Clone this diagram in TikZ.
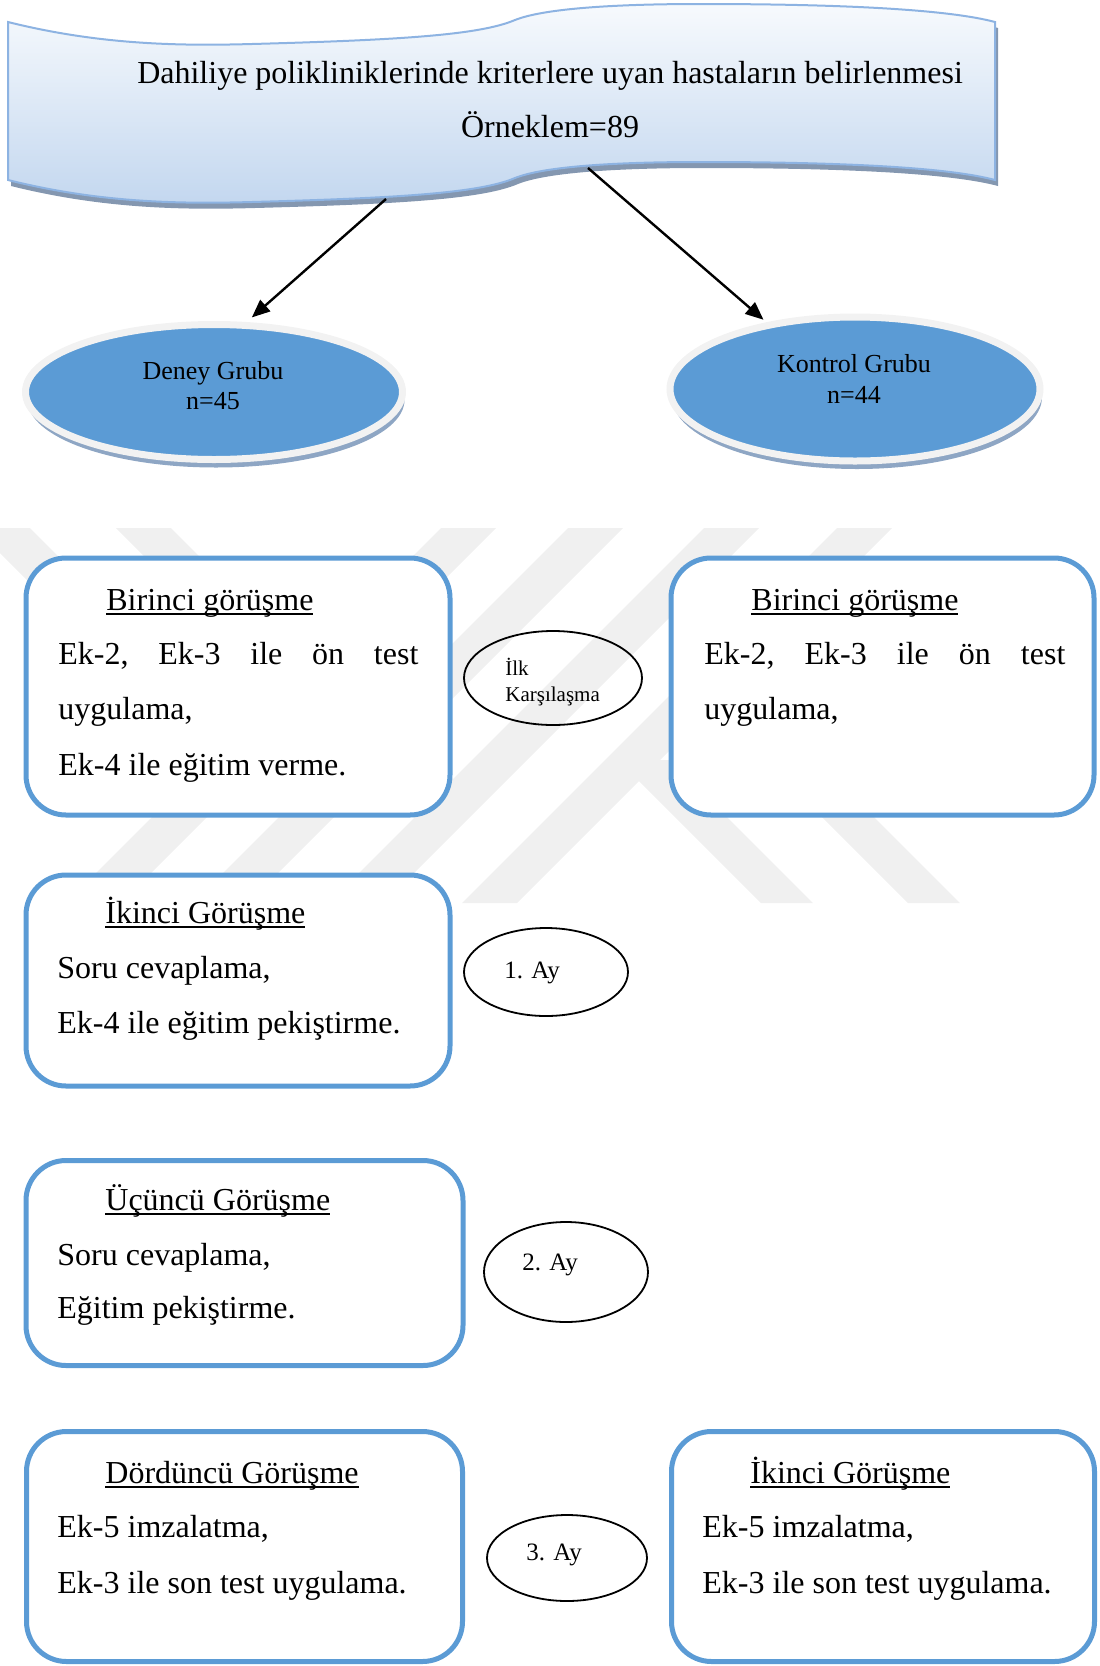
\documentclass[tikz,border=0pt]{standalone}
\usepackage{fontspec}
\setmainfont{Liberation Serif}
\usetikzlibrary{arrows.meta,shapes.geometric,shadows}
\definecolor{kenarmavi}{HTML}{5B9BD5}
\definecolor{grupmavi}{HTML}{5B9BD5}
\definecolor{kenargri}{HTML}{F2F2F2}
\definecolor{golgemavi}{HTML}{8EA6C4}
\definecolor{bantust}{HTML}{F7FAFD}
\definecolor{bantalt}{HTML}{C3D7EF}
\definecolor{bantkenar}{HTML}{8DB3E2}
\definecolor{bantgolge}{HTML}{8497B0}
\definecolor{filigran}{HTML}{F0F0F0}
\newcommand\altcizgi[1]{\setbox0\hbox{#1}\rlap{\rule[-2.4pt]{\wd0}{0.9pt}}\box0}
% wave banner outline, in pixels of the page
\def\bantyol{(8,22) .. controls (100,45) and (180,46) .. (252,44)
  .. controls (400,40) and (480,35) .. (515,20)
  .. controls (545,8) and (620,4) .. (700,4)
  .. controls (850,4) and (950,10) .. (995,22) -- (995,180)
  .. controls (950,168) and (850,162) .. (700,162)
  .. controls (620,162) and (545,166) .. (515,178)
  .. controls (480,193) and (400,198) .. (252,202)
  .. controls (180,204) and (100,203) .. (8,180) -- cycle}
\begin{document}
\begin{tikzpicture}[x=0.5pt, y=-0.5pt,
    kutu/.style={draw=kenarmavi, line width=2.5pt, fill=white, rounded corners=20pt, inner sep=0pt},
    grup/.style={ellipse, draw=kenargri, line width=3.5pt, fill=grupmavi, inner sep=0pt,
      drop shadow={shadow xshift=1pt, shadow yshift=-4pt, fill=golgemavi, opacity=1}},
    zaman/.style={ellipse, draw=black, line width=0.9pt, inner sep=0pt},
    yazi/.style={anchor=base west, inner sep=0pt, font=\fontsize{16pt}{19pt}\selectfont},
    baslik/.style={anchor=base, inner sep=0pt, font=\fontsize{16pt}{19pt}\selectfont},
    grupyazi/.style={anchor=base, inner sep=0pt, font=\fontsize{13pt}{15pt}\selectfont},
    ayyazi/.style={anchor=base west, inner sep=0pt, font=\fontsize{12.5pt}{15pt}\selectfont},
    ok/.style={line width=1.2pt, -{Triangle[length=9pt,width=7.5pt]}}]
  \useasboundingbox (0,0) rectangle (1099,1666);

  % faint watermark stripes
  \fill[filigran] (-25,528) -- ++(55,0) -- ++(262,262) -- ++(-55,0) -- cycle;
  \fill[filigran] (116,528) -- ++(55,0) -- ++(262,262) -- ++(-55,0) -- cycle;
  \fill[filigran] (441,528) -- ++(55,0) -- ++(-375,375) -- ++(-55,0) -- cycle;
  \fill[filigran] (568,528) -- ++(55,0) -- ++(-375,375) -- ++(-55,0) -- cycle;
  \fill[filigran] (704,528) -- ++(55,0) -- ++(-375,375) -- ++(-55,0) -- cycle;
  \fill[filigran] (837,528) -- ++(55,0) -- ++(-375,375) -- ++(-55,0) -- cycle;
  \fill[filigran] (618,760) -- ++(52,0) -- ++(143,143) -- ++(-52,0) -- cycle;
  \fill[filigran] (765,760) -- ++(52,0) -- ++(143,143) -- ++(-52,0) -- cycle;

  % banner
  \fill[bantgolge, shift={(3,6)}] \bantyol;
  \shade[top color=bantust, bottom color=bantalt] \bantyol;
  \draw[bantkenar, line width=1pt] \bantyol;
  \node[baslik] (bant1) at (550,83) {Dahiliye polikliniklerinde kriterlere uyan hastaların belirlenmesi};
  \node[baslik] (bant2) at (550,137) {Örneklem=89};
  \coordinate (bantL) at (386,199);
  \coordinate (bantR) at (588,168);

  % groups
  \node[grup, minimum width=188.5pt, minimum height=67.5pt] (deney) at (214,392) {};
  \node[grup, minimum width=185pt, minimum height=72pt] (kontrol) at (855,389) {};
  \node[grupyazi] (deney1) at (213,379) {Deney Grubu};
  \node[grupyazi] (deney2) at (213,409) {n=45};
  \node[grupyazi] (kontrol1) at (854,372) {Kontrol Grubu};
  \node[grupyazi] (kontrol2) at (854,403) {n=44};
  \draw[ok, shorten >=3.5pt] (bantL) -- (deney.65);
  \draw[ok, shorten >=2pt] (bantR) -- (kontrol.143);

  % interview boxes
  \node[kutu, minimum width=212pt, minimum height=128.5pt] (b1sol) at (238,686.5) {};
  \node[kutu, minimum width=211.5pt, minimum height=128.5pt] (b1sag) at (882.5,686.5) {};
  \node[kutu, minimum width=212pt, minimum height=105.5pt] (b2) at (238,980.5) {};
  \node[kutu, minimum width=218.5pt, minimum height=102.5pt] (b3) at (244.5,1263) {};
  \node[kutu, minimum width=218pt, minimum height=115pt] (b4sol) at (244.5,1546.5) {};
  \node[kutu, minimum width=211.5pt, minimum height=115pt] (b4sag) at (883,1546.5) {};

  % time marks
  \node[zaman, minimum width=89pt, minimum height=47pt] (ilk) at (553,678) {};
  \node[zaman, minimum width=82pt, minimum height=44pt] (ay1) at (546,972) {};
  \node[zaman, minimum width=82pt, minimum height=50pt] (ay2) at (566,1272) {};
  \node[zaman, minimum width=80pt, minimum height=43pt] (ay3) at (567,1558) {};
  \node[anchor=base west, inner sep=0pt, font=\fontsize{10.5pt}{12pt}\selectfont] (ilk1) at (505,675) {İlk};
  \node[anchor=base west, inner sep=0pt, font=\fontsize{10.5pt}{12pt}\selectfont] (ilk2) at (505,701) {Karşılaşma};
  \node[ayyazi] (ay1y) at (504,978) {1. Ay};
  \node[ayyazi] (ay2y) at (522,1270) {2. Ay};
  \node[ayyazi] (ay3y) at (526,1560) {3. Ay};

  % texts of the boxes
  \node[yazi] (b1sol0) at (106,610) {\altcizgi{Birinci görüşme}};
  \node[yazi] (b1sol1) at (58,664) {\hbox to 180pt{Ek-2,\hfill Ek-3\hfill ile\hfill ön\hfill test}};
  \node[yazi] (b1sol2) at (58,719) {uygulama,};
  \node[yazi] (b1sol3) at (58,775) {Ek-4 ile eğitim verme.};
  \node[yazi] (b1sag0) at (751,610) {\altcizgi{Birinci görüşme}};
  \node[yazi] (b1sag1) at (704,664) {\hbox to 180.5pt{Ek-2,\hfill Ek-3\hfill ile\hfill ön\hfill test}};
  \node[yazi] (b1sag2) at (704,719) {uygulama,};
  \node[yazi] (b20) at (105,923) {\altcizgi{İkinci Görüşme}};
  \node[yazi] (b21) at (57,978) {Soru cevaplama,};
  \node[yazi] (b22) at (57,1033) {Ek-4 ile eğitim pekiştirme.};
  \node[yazi] (b30) at (105,1210) {\altcizgi{Üçüncü Görüşme}};
  \node[yazi] (b31) at (57,1265) {Soru cevaplama,};
  \node[yazi] (b32) at (57,1318) {Eğitim pekiştirme.};
  \node[yazi] (b4sol0) at (105,1483) {\altcizgi{Dördüncü Görüşme}};
  \node[yazi] (b4sol1) at (57,1537) {Ek-5 imzalatma,};
  \node[yazi] (b4sol2) at (57,1593) {Ek-3 ile son test uygulama.};
  \node[yazi] (b4sag0) at (750,1483) {\altcizgi{İkinci Görüşme}};
  \node[yazi] (b4sag1) at (702,1537) {Ek-5 imzalatma,};
  \node[yazi] (b4sag2) at (702,1593) {Ek-3 ile son test uygulama.};
\end{tikzpicture}
\end{document}
